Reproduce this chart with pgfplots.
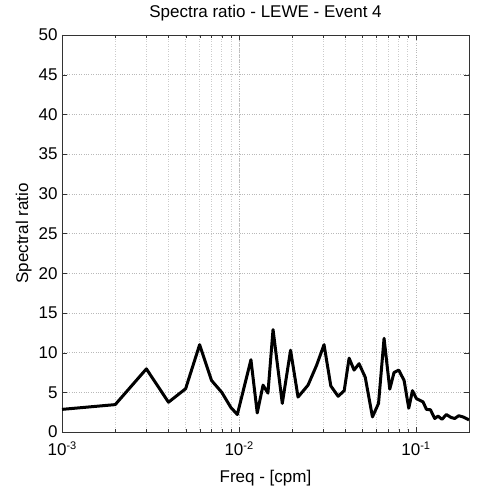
\documentclass[border=0pt]{standalone}
\usepackage{fontspec}
\setmainfont{Liberation Sans}
\usepackage{pgfplots}
\pgfplotsset{compat=1.18}
\newcommand{\tenpow}[1]{10\raisebox{0.75ex}{\fontsize{11}{12}\selectfont #1}}
\begin{document}
\begin{tikzpicture}
\begin{axis}[
  scale only axis,
  width=407pt, height=397pt,
  xmode=log,
  xmin=0.001, xmax=0.2,
  ymin=0, ymax=50,
  ytick={0,5,...,50},
  xtick={0.001,0.01,0.1},
  xticklabels={\tenpow{-3},\tenpow{-2},\tenpow{-1}},
  tick align=inside,
  major tick length=5pt,
  minor tick length=3pt,
  xmajorgrids, xminorgrids, ymajorgrids,
  grid style={dotted, gray!55, line width=0.5pt},
  minor grid style={dotted, gray!40, line width=0.5pt},
  axis line style={black!80},
  tick style={black!80},
  every tick label/.append style={font=\fontsize{17}{19}\selectfont},
  /pgf/number format/assume math mode=true,
  label style={font=\fontsize{17}{19}\selectfont},
  title style={font=\fontsize{17}{19}\selectfont, yshift=4pt},
  title={Spectra ratio - LEWE - Event 4},
  xlabel={Freq - [cpm]},
  ylabel={Spectral ratio},
  xlabel style={yshift=-7pt},
  ylabel style={yshift=0pt},
  xticklabel style={yshift=-6pt},
  yticklabel style={xshift=-1pt},
]
\addplot[black, line width=3pt, line join=round] coordinates {
(0.001, 2.85)
(0.002, 3.45)
(0.003, 7.95)
(0.004, 3.75)
(0.005, 5.45)
(0.006, 11.0)
(0.007, 6.5)
(0.008, 5.0)
(0.009, 3.1)
(0.0098, 2.2)
(0.0117, 9.1)
(0.0127, 2.4)
(0.0137, 5.9)
(0.0146, 4.9)
(0.0156, 12.9)
(0.0176, 3.6)
(0.0196, 10.3)
(0.0216, 4.4)
(0.0246, 5.9)
(0.0275, 8.4)
(0.0303, 11.0)
(0.0331, 5.8)
(0.0364, 4.5)
(0.0394, 5.2)
(0.042, 9.3)
(0.0448, 7.8)
(0.0478, 8.6)
(0.0518, 6.9)
(0.0569, 1.9)
(0.0616, 3.6)
(0.0662, 11.8)
(0.0713, 5.4)
(0.0754, 7.5)
(0.0801, 7.8)
(0.0859, 6.5)
(0.0913, 3.0)
(0.0958, 5.2)
(0.1009, 4.2)
(0.1053, 4.0)
(0.1099, 3.8)
(0.1149, 2.85)
(0.1211, 2.8)
(0.128, 1.7)
(0.1336, 2.0)
(0.1407, 1.6)
(0.149, 2.2)
(0.1577, 1.85)
(0.166, 1.7)
(0.175, 2.05)
(0.185, 1.9)
(0.197, 1.6)
(0.2, 1.5)
};
\end{axis}
\pgfresetboundingbox
\path (current axis.south west) ++(-62pt,-60pt) coordinate (bl);
\path (current axis.north east) ++(9pt,35pt) coordinate (tr);
\path[use as bounding box] (bl) rectangle (tr);
\end{tikzpicture}
\end{document}
